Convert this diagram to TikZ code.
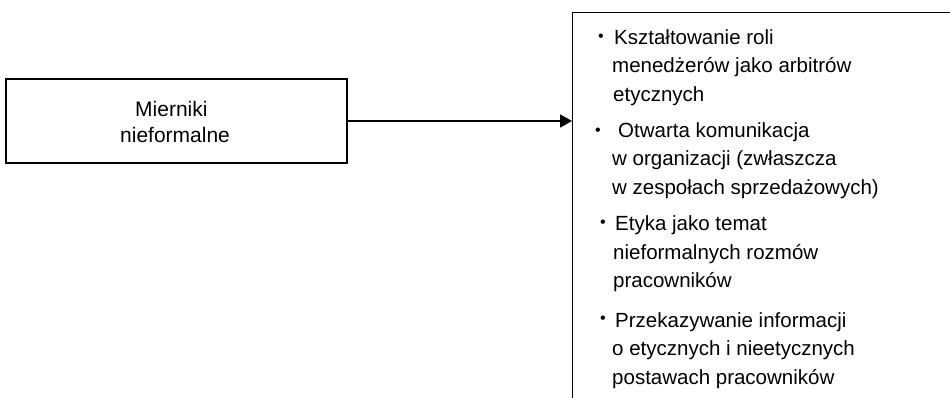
\documentclass[tikz,border=0pt]{standalone}
\usepackage{fontspec}
\setmainfont{Liberation Sans}
\usetikzlibrary{arrows.meta}
\tikzset{
  box/.style={draw=black, line width=1.3bp, inner sep=0pt},
  txt/.style={anchor=base west, inner sep=0pt, font=\fontsize{20.5bp}{24bp}\selectfont},
  ltxt/.style={anchor=base west, inner sep=0pt, font=\fontsize{21bp}{24bp}\selectfont},
  bul/.style={anchor=base, inner sep=0pt, font=\fontsize{16bp}{18bp}\selectfont},
  conn/.style={line width=1.7bp, -{Triangle[length=12bp,width=13bp]}}
}
\begin{document}
\begin{tikzpicture}[x=1bp,y=-1bp]
\useasboundingbox (0,0) rectangle (950,397);
\node[box, minimum width=341bp, minimum height=84bp] (lbox) at (176.5,121) {};
\node[box, anchor=north west, minimum width=420bp, minimum height=420bp] (rbox) at (572,12) {};
\draw[conn] (lbox.east) -- (lbox.east -| rbox.west);
% left text
\node[ltxt] (l1) at (135,116.5) {Mierniki};
\node[ltxt] (l2) at (120,142.5) {nieformalne};
% item 1
\node[bul] (b1) at (601,41) {•};
\node[txt] (a1) at (614,44) {Kształtowanie roli};
\node[txt] (a2) at (612,72.5) {menedżerów jako arbitrów};
\node[txt] (a3) at (613,101) {etycznych};
% item 2
\node[bul] (b2) at (598,135) {•};
\node[txt] (c1) at (618,137) {Otwarta komunikacja};
\node[txt] (c2) at (612,165.5) {w organizacji (zwłaszcza};
\node[txt] (c3) at (612,194) {w zespołach sprzedażowych)};
% item 3
\node[bul] (b3) at (603,227) {•};
\node[txt] (d1) at (615,230.5) {Etyka jako temat};
\node[txt] (d2) at (613,259) {nieformalnych rozmów};
\node[txt] (d3) at (613,287.5) {pracowników};
% item 4
\node[bul] (b4) at (603,323) {•};
\node[txt] (e1) at (615,327) {Przekazywanie informacji};
\node[txt] (e2) at (612,355.5) {o etycznych i nieetycznych};
\node[txt] (e3) at (612,384) {postawach pracowników};
\end{tikzpicture}
\end{document}
